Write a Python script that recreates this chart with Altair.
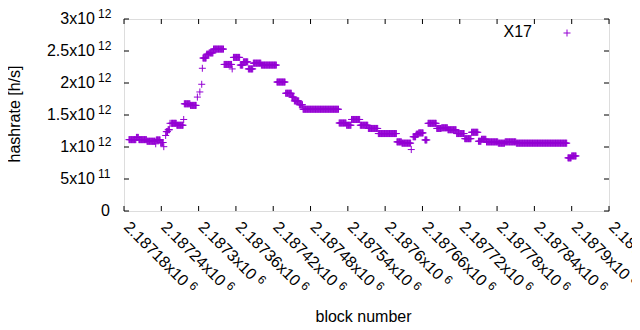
import altair as alt
import numpy as np
import pandas as pd

# ---- data: runs of blocks sharing the same hashrate (inclusive block ranges, value in 1e12 h/s)
run_start = [2187188, 2187200, 2187204, 2187217, 2187231, 2187232, 2187239, 2187244, 2187247, 2187248,
             2187251, 2187254, 2187256, 2187265, 2187276, 2187277, 2187287, 2187298, 2187302, 2187305,
             2187306, 2187307, 2187313, 2187317, 2187324, 2187341, 2187354, 2187356, 2187367, 2187372,
             2187380, 2187388, 2187401, 2187426, 2187440, 2187450, 2187454, 2187462, 2187468, 2187526,
             2187538, 2187546, 2187560, 2187573, 2187589, 2187619, 2187627, 2187642, 2187645, 2187650,
             2187654, 2187664, 2187669, 2187683, 2187691, 2187701, 2187715, 2187728, 2187739, 2187750,
             2187755, 2187763, 2187782, 2187793, 2187811, 2187894, 2187900]
run_end = [2187199, 2187203, 2187216, 2187230, 2187231, 2187238, 2187243, 2187244, 2187247, 2187250,
           2187253, 2187254, 2187264, 2187275, 2187276, 2187286, 2187296, 2187298, 2187302, 2187305,
           2187306, 2187312, 2187316, 2187323, 2187340, 2187353, 2187354, 2187366, 2187371, 2187379,
           2187387, 2187400, 2187425, 2187439, 2187449, 2187453, 2187461, 2187467, 2187525, 2187537,
           2187545, 2187559, 2187572, 2187588, 2187618, 2187626, 2187641, 2187642, 2187649, 2187653,
           2187661, 2187667, 2187682, 2187690, 2187700, 2187714, 2187727, 2187738, 2187749, 2187754,
           2187762, 2187781, 2187792, 2187810, 2187892, 2187899, 2187907]
run_value = [1.115, 1.15, 1.115, 1.09, 1.05, 1.11, 1.07, 1.005, 1.18, 1.24,
             1.27, 1.37, 1.37, 1.34, 1.43, 1.675, 1.65, 1.78, 1.86, 1.98,
             2.23, 2.39, 2.45, 2.47, 2.53, 2.29, 2.22, 2.40, 2.28, 2.33,
             2.22, 2.31, 2.28, 2.015, 1.84, 1.78, 1.72, 1.66, 1.59, 1.375,
             1.34, 1.43, 1.34, 1.29, 1.21, 1.08, 1.06, 0.96, 1.16, 1.20,
             1.22, 1.11, 1.37, 1.29, 1.30, 1.27, 1.21, 1.13, 1.23, 1.09,
             1.12, 1.08, 1.06, 1.08, 1.06, 0.83, 0.86]

x_ticks = [2187180, 2187240, 2187300, 2187360, 2187420, 2187480, 2187540,
           2187600, 2187660, 2187720, 2187780, 2187840, 2187900, 2187960]
x_tick_main = ["2.18718x10", "2.18724x10", "2.1873x10", "2.18736x10", "2.18742x10", "2.18748x10",
               "2.18754x10", "2.1876x10", "2.18766x10", "2.18772x10", "2.18778x10", "2.18784x10",
               "2.1879x10", "2.18796x10"]
x_tick_exp = ["6"] * 14
y_ticks = [0, 0.5, 1, 1.5, 2, 2.5, 3]
y_tick_main = ["0", "5x10", "1x10", "1.5x10", "2x10", "2.5x10", "3x10"]
y_tick_exp = ["", "11", "12", "12", "12", "12", "12"]
series_name = ["X17"]

# ---- build table
blocks, vals = [], []
for s, e, v in zip(run_start, run_end, run_value):
    for b in range(s, e + 1):
        blocks.append(b)
        vals.append(v)
df = pd.DataFrame({"block": blocks, "h": vals})

W, H = 485, 192
FONT = "Liberation Sans"
FS = 16
EFS = 12
PURPLE = "#9400d3"
PLUS = "M-1,0L1,0M0,-1L0,1"

xs = alt.Scale(domain=[x_ticks[0], x_ticks[-1]], nice=False, zero=False)
ys = alt.Scale(domain=[y_ticks[0], y_ticks[-1]], nice=False, zero=False)

pts = alt.Chart(df).mark_point(shape=PLUS, filled=False, stroke=PURPLE, strokeWidth=1,
                               size=49, opacity=1).encode(
    x=alt.X("block:Q", scale=xs, axis=None),
    y=alt.Y("h:Q", scale=ys, axis=None),
)

dxt = pd.DataFrame({"t": x_ticks, "m": x_tick_main, "e": x_tick_exp})
dyt = pd.DataFrame({"v": y_ticks, "m": y_tick_main, "e": y_tick_exp})

xt_bot = alt.Chart(dxt).mark_rule(color="black", strokeWidth=1).encode(
    x=alt.X("t:Q", scale=xs, axis=None), y=alt.value(H), y2=alt.value(H - 5))
xt_top = alt.Chart(dxt).mark_rule(color="black", strokeWidth=1).encode(
    x=alt.X("t:Q", scale=xs, axis=None), y=alt.value(0), y2=alt.value(5))
yt_left = alt.Chart(dyt).mark_rule(color="black", strokeWidth=1).encode(
    y=alt.Y("v:Q", scale=ys, axis=None), x=alt.value(0), x2=alt.value(5))
yt_right = alt.Chart(dyt).mark_rule(color="black", strokeWidth=1).encode(
    y=alt.Y("v:Q", scale=ys, axis=None), x=alt.value(W), x2=alt.value(W - 5))

# y labels
ylab_main = alt.Chart(dyt[dyt["e"] != ""]).mark_text(
    align="right", baseline="middle", font=FONT, fontSize=FS, color="black").encode(
    y=alt.Y("v:Q", scale=ys, axis=None), x=alt.value(-29), text="m:N")
ylab_zero = alt.Chart(dyt[dyt["e"] == ""]).mark_text(
    align="right", baseline="middle", font=FONT, fontSize=FS, color="black").encode(
    y=alt.Y("v:Q", scale=ys, axis=None), x=alt.value(-14), text="m:N")
ylab_exp = alt.Chart(dyt[dyt["e"] != ""]).mark_text(
    align="left", baseline="middle", font=FONT, fontSize=EFS, color="black", dy=-5).encode(
    y=alt.Y("v:Q", scale=ys, axis=None), x=alt.value(-26), text="e:N")

# x labels (rotated)
CW = {"0": 556, "1": 556, "2": 556, "3": 556, "4": 556, "5": 556, "6": 556, "7": 556,
      "8": 556, "9": 556, ".": 278, "x": 500}

def tw(s, fs):
    return sum(CW.get(c, 556) for c in s) * fs / 1000.0

XLY = H + 11
XDX = 3.5
xlab_main = alt.Chart(dxt).mark_text(
    align="left", baseline="middle", angle=45, font=FONT, fontSize=FS, color="black", dx=XDX).encode(
    x=alt.X("t:Q", scale=xs, axis=None), y=alt.value(XLY), text="m:N")
xlab_exp = []
for i in range(len(x_ticks)):
    sub = dxt.iloc[[i]]
    xlab_exp.append(alt.Chart(sub).mark_text(
        align="left", baseline="middle", angle=45, font=FONT, fontSize=EFS, color="black",
        dx=XDX + tw(x_tick_main[i], FS) + 4, dy=-4).encode(
        x=alt.X("t:Q", scale=xs, axis=None), y=alt.value(XLY), text="e:N"))

# titles
ttl = pd.DataFrame({"s": ["block number"]})
xtitle = alt.Chart(ttl).mark_text(font=FONT, fontSize=FS, color="black", baseline="middle").encode(
    x=alt.value(W / 2 - 3), y=alt.value(298), text="s:N")
ttl2 = pd.DataFrame({"s": ["hashrate [h/s]"]})
ytitle = alt.Chart(ttl2).mark_text(font=FONT, fontSize=FS, color="black", baseline="middle",
                                   angle=270).encode(
    x=alt.value(-109), y=alt.value(H / 2 - 1), text="s:N")

# legend
leg = pd.DataFrame({"s": series_name})
leg_text = alt.Chart(leg).mark_text(font=FONT, fontSize=FS, color="black", align="right",
                                    baseline="middle").encode(
    x=alt.value(408), y=alt.value(13), text="s:N")
leg_pt = alt.Chart(leg).mark_point(shape=PLUS, filled=False, stroke=PURPLE, strokeWidth=1,
                                   size=49, opacity=1).encode(
    x=alt.value(443), y=alt.value(14))

chart = alt.layer(
    pts, xt_bot, xt_top, yt_left, yt_right,
    ylab_main, ylab_zero, ylab_exp, xlab_main, *xlab_exp,
    xtitle, ytitle, leg_text, leg_pt,
).properties(
    width=W, height=H,
    autosize=alt.AutoSizeParams(type="none"),
    padding={"left": 116, "top": 11, "right": 23, "bottom": 115},
).configure_view(stroke="black", strokeWidth=1).configure(background="white")

chart.save("out.html", embed_options={"renderer": "svg", "actions": False})
